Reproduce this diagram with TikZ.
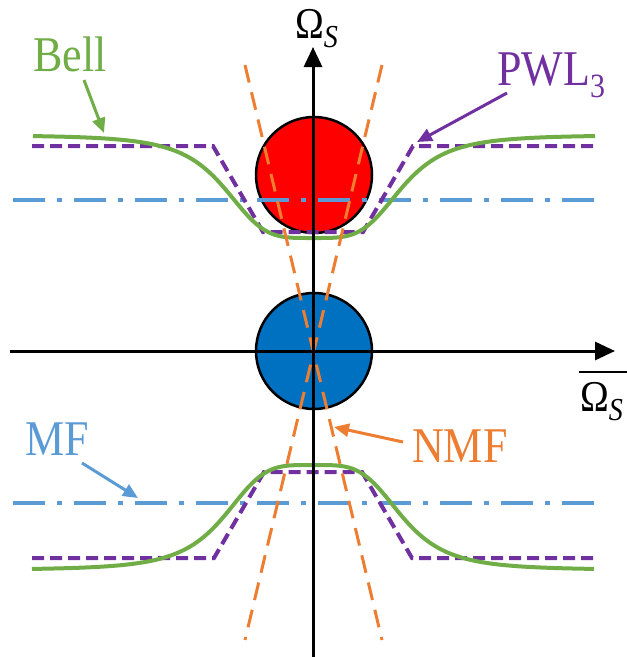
\documentclass[tikz,border=0pt]{standalone}
\usepackage{fontspec}
\setmainfont[FakeStretch=0.88]{Liberation Serif}
\usetikzlibrary{arrows.meta}
\definecolor{cgreen}{HTML}{70AD47}
\definecolor{cpurple}{HTML}{7030A0}
\definecolor{cblue}{HTML}{5B9BD5}
\definecolor{corange}{HTML}{ED7D31}
\definecolor{cfill}{HTML}{0070C0}
\definecolor{cred}{HTML}{FF0000}
\begin{document}
\begin{tikzpicture}[x=1pt,y=-1pt,
  axis/.style={line width=3pt,-{Triangle[length=20pt,width=18pt]}},
  blob/.style={circle,draw=black,line width=2.5pt,minimum size=116pt,inner sep=0pt},
  mfline/.style={cblue,line width=4pt,dash pattern=on 32pt off 12pt on 5pt off 12pt},
  pwl/.style={cpurple,line width=4pt,dash pattern=on 12pt off 6pt},
  bell/.style={cgreen,line width=4pt},
  nmf/.style={corange,line width=3pt,dash pattern=on 18pt off 10pt},
  lab/.style={anchor=base west,inner sep=0pt,font=\fontsize{50}{50}\selectfont},
  pointer/.style={line width=3pt,-{Triangle[length=15pt,width=13pt]}}
]
\useasboundingbox (0,0) rectangle (627,657);
% circles
\node[blob,fill=cred] (rc) at (314,175) {};
\node[blob,fill=cfill] (bc) at (314,351) {};
% MF lines
\coordinate (m1a) at (13,200); \coordinate (m1b) at (604,200);
\coordinate (m2a) at (13,503); \coordinate (m2b) at (604,503);
\draw[mfline] (m1a) -- (m1b);
\draw[mfline] (m2a) -- (m2b);
% PWL3
\draw[pwl] (32,146) -- (213,146) -- (263,232) -- (363,232) -- (413,146) -- (594,146);
\draw[pwl] (32,558) -- (214,558) -- (264,472) -- (362,472) -- (412,558) -- (594,558);
% Bell
\draw[bell] plot[domain=33:595,samples=200,smooth] (\x,{135+103/(1+(((\x-313)/90)*((\x-313)/90))*(((\x-313)/90)*((\x-313)/90)))});
\draw[bell] plot[domain=32:594,samples=200,smooth] (\x,{570-105/(1+(((\x-313)/90)*((\x-313)/90))*(((\x-313)/90)*((\x-313)/90)))});
% NMF
\coordinate (n1a) at (245,65); \coordinate (n1b) at (382,640);
\coordinate (n2a) at (382,65); \coordinate (n2b) at (245,640);
\draw[nmf] (n1a) -- (n1b);
\draw[nmf] (n2a) -- (n2b);
% axes
\coordinate (xl) at (10,351); \coordinate (xr) at (615,351);
\coordinate (yb) at (313,657); \coordinate (yt) at (313,47);
\draw[axis] (xl) -- (xr);
\draw[axis] (yb) -- (yt);
% axis labels
\node[anchor=base west,inner sep=0pt] (omt) at (295,38) {\fontsize{44}{44}\selectfont Ω\raisebox{-9pt}{\fontsize{32}{32}\selectfont\itshape S}};
\node[anchor=base west,inner sep=0pt] (omb) at (580,411) {\fontsize{44}{44}\selectfont Ω\raisebox{-9pt}{\fontsize{32}{32}\selectfont\itshape S}};
\coordinate (ola) at (579,372); \coordinate (olb) at (627,372);
\draw[line width=2pt] (ola) -- (olb);
% labels
\node[lab,text=cgreen] (bell) at (33,71) {Bell};
\node[lab,text=cpurple] (pwl) at (497,85) {PWL\raisebox{-12pt}{\fontsize{34}{34}\selectfont 3}};
\node[lab,text=cblue] (mf) at (25,455) {MF};
\node[lab,text=corange] (nmfl) at (412,462) {NMF};
% pointers
\coordinate (ba) at (84,80); \coordinate (bb) at (104,133);
\draw[pointer,cgreen] (ba) -- (bb);
\coordinate (pa) at (507,93); \coordinate (pb) at (417,142);
\draw[pointer,cpurple] (pa) -- (pb);
\coordinate (ma) at (82,463); \coordinate (mb) at (138,498);
\draw[pointer,cblue] (ma) -- (mb);
\coordinate (na) at (403,442); \coordinate (nb) at (334,427);
\draw[pointer,corange] (na) -- (nb);
\end{tikzpicture}
\end{document}
